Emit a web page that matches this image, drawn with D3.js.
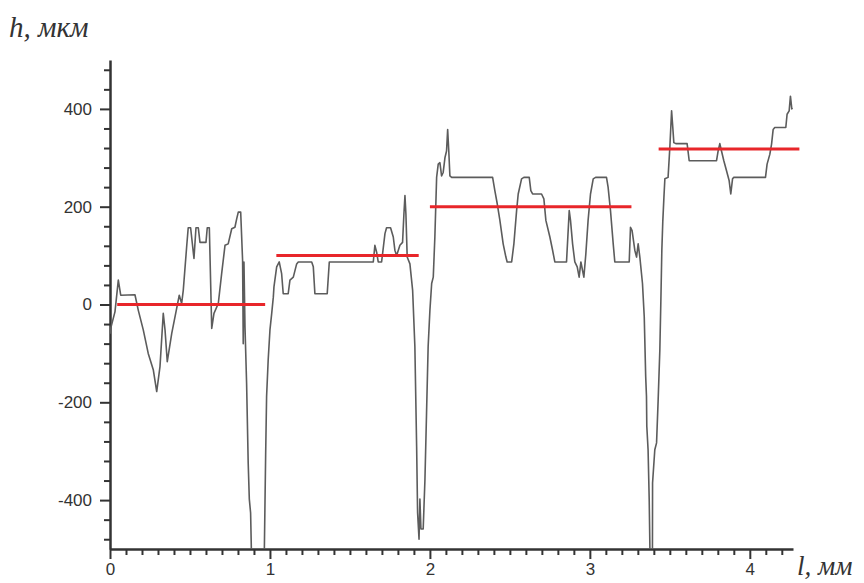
<!DOCTYPE html>
<html>
<head>
<meta charset="utf-8">
<script src="https://cdn.jsdelivr.net/npm/d3@7"></script>
<style>
  body { margin: 0; background: #fff; }
  .tick text { font-family: "Liberation Sans", Arial, sans-serif; fill: #333; }
</style>
</head>
<body>
<script>
// profile: distance along the surface (mm) and height (μm)
var profileX = [0.0, 0.004, 0.031, 0.052, 0.067, 0.156, 0.177, 0.208, 0.239, 0.271, 0.292, 0.3125, 0.333, 0.344, 0.358,
  0.386, 0.4125, 0.433, 0.448, 0.458, 0.479, 0.489, 0.504, 0.525, 0.5375, 0.552, 0.5625, 0.6, 0.608, 0.621,
  0.636, 0.65, 0.677, 0.698, 0.719, 0.739, 0.761, 0.781, 0.792, 0.802, 0.817, 0.829, 0.833, 0.8375, 0.844,
  0.854, 0.864, 0.871, 0.879, 0.8875, 0.9625, 0.973, 0.979, 0.989, 1.0, 1.011, 1.021, 1.025, 1.042, 1.058,
  1.073, 1.083, 1.114, 1.125, 1.146, 1.167, 1.177, 1.261, 1.271, 1.281, 1.358, 1.371, 1.646, 1.656, 1.667,
  1.677, 1.698, 1.719, 1.729, 1.754, 1.771, 1.781, 1.792, 1.8125, 1.829, 1.8375, 1.844, 1.85, 1.858, 1.875,
  1.892, 1.906, 1.917, 1.923, 1.932, 1.9375, 1.944, 1.958, 1.969, 1.979, 1.989, 2.0, 2.011, 2.021, 2.031,
  2.042, 2.052, 2.0625, 2.073, 2.083, 2.094, 2.104, 2.111, 2.118, 2.125, 2.136, 2.392, 2.406, 2.421, 2.4375,
  2.458, 2.475, 2.483, 2.511, 2.525, 2.542, 2.552, 2.573, 2.5875, 2.621, 2.631, 2.642, 2.698, 2.7125, 2.725,
  2.75, 2.767, 2.781, 2.854, 2.871, 2.879, 2.892, 2.906, 2.921, 2.933, 2.944, 2.954, 2.9625, 2.975, 2.989,
  3.004, 3.021, 3.036, 3.104, 3.114, 3.129, 3.146, 3.156, 3.246, 3.254, 3.264, 3.281, 3.292, 3.302, 3.3125,
  3.329, 3.34, 3.349, 3.354, 3.356, 3.364, 3.371, 3.378, 3.391, 3.392, 3.406, 3.417, 3.427, 3.4375, 3.444,
  3.45, 3.456, 3.463, 3.469, 3.489, 3.5, 3.511, 3.517, 3.525, 3.5375, 3.608, 3.621, 3.792, 3.802, 3.8125,
  3.823, 3.8375, 3.854, 3.871, 3.881, 3.892, 3.9, 4.098, 4.108, 4.125, 4.136, 4.146, 4.156, 4.225, 4.233,
  4.246, 4.254, 4.2625, 4.267];
var profileH = [-60, -49, -15, 50, 19, 20, -12, -52, -100, -134, -178, -127, -18, -52, -117,
  -59, -15, 19, 2, 29, 117, 157, 157, 94, 157, 157, 127, 127, 157, 157,
  -49, -18, 2, 63, 121, 124, 155, 158, 175, 189, 189, 90, -80, 87, -46,
  -161, -324, -398, -426, -560, -560, -310, -188, -113, -52, -18, 15, 36, 77, 87,
  63, 22, 22, 50, 56, 83, 87, 87, 77, 22, 22, 87, 87, 121, 107,
  87, 87, 145, 157, 157, 138, 111, 100, 121, 127, 185, 223, 185, 97, 83,
  29, -86, -290, -426, -480, -398, -459, -459, -358, -222, -86, -12, 43, 56, 138,
  260, 287, 290, 263, 270, 300, 314, 358, 314, 263, 260, 260, 233, 206, 172,
  124, 97, 87, 87, 124, 192, 226, 257, 260, 260, 233, 226, 226, 216, 172,
  138, 111, 87, 87, 192, 172, 124, 87, 77, 56, 87, 70, 56, 104, 172,
  226, 257, 260, 260, 240, 192, 124, 87, 87, 158, 151, 111, 97, 124, 97,
  43, -25, -147, -188, -249, -297, -398, -560, -560, -365, -297, -283, -195, -93, 9,
  111, 170, 219, 257, 260, 321, 396, 369, 331, 329, 329, 294, 294, 314, 329,
  314, 294, 274, 253, 226, 257, 260, 260, 287, 307, 328, 358, 362, 362, 389,
  396, 426, 400, 402];

// mean levels of the four steps
var meanStart = [0.045, 1.04, 2.0, 3.43];
var meanEnd = [0.97, 1.93, 3.26, 4.31];
var meanLevel = [0, 100, 200, 318];

var yMajor = [-400, -200, 0, 200, 400];
var xMajor = [0, 1, 2, 3, 4];

var width = 864, height = 583;
var margin = {left: 110, right: 793, top: 60, bottom: 549};

var svg = d3.select("body").append("svg")
  .attr("width", width)
  .attr("height", height);

var x = d3.scaleLinear().domain([0, 4.27]).range([margin.left, margin.right]);
var y = d3.scaleLinear().domain([-500, 500]).range([margin.bottom, margin.top]);

svg.append("clipPath").attr("id", "plot")
  .append("rect")
  .attr("x", margin.left).attr("y", margin.top)
  .attr("width", margin.right - margin.left).attr("height", margin.bottom - margin.top);

// plain hyphen for negatives, like the original
var fmt = function(d) { return String(d); };

// minor ticks first, then major axes on top
var yMinor = d3.range(-480, 481, 40).filter(function(v) { return yMajor.indexOf(v) < 0; });
var xMinor = d3.range(1, 43).map(function(v) { return v / 10; })
  .filter(function(v) { return Math.abs(v - Math.round(v)) > 1e-6; });

svg.append("g")
  .attr("transform", "translate(" + margin.left + ",0)")
  .call(d3.axisLeft(y).tickValues(yMinor).tickSize(6).tickFormat(""))
  .call(function(g) { g.select(".domain").remove(); });

svg.append("g")
  .attr("transform", "translate(0," + margin.bottom + ")")
  .call(d3.axisBottom(x).tickValues(xMinor).tickSize(6).tickFormat(""))
  .call(function(g) { g.select(".domain").remove(); });

var yAxis = svg.append("g")
  .attr("transform", "translate(" + margin.left + ",0)")
  .call(d3.axisLeft(y).tickValues(yMajor).tickSize(10).tickPadding(8).tickSizeOuter(0)
    .tickFormat(fmt));
yAxis.selectAll("text").style("font-size", "17px");

var xAxis = svg.append("g")
  .attr("transform", "translate(0," + margin.bottom + ")")
  .call(d3.axisBottom(x).tickValues(xMajor).tickSize(10).tickPadding(4).tickSizeOuter(0)
    .tickFormat(fmt));
xAxis.selectAll("text").style("font-size", "17px");

svg.selectAll(".tick line").attr("stroke", "#333").attr("stroke-width", 2);
svg.selectAll(".domain").attr("stroke", "#333").attr("stroke-width", 2.5);

// profile line
var line = d3.line()
  .x(function(d, i) { return x(profileX[i]); })
  .y(function(d, i) { return y(profileH[i]); });

svg.append("path")
  .datum(profileX)
  .attr("clip-path", "url(#plot)")
  .attr("fill", "none")
  .attr("stroke", "#5c5c5c")
  .attr("stroke-width", 1.6)
  .attr("stroke-linejoin", "round")
  .attr("d", line);

// mean lines
svg.selectAll("line.mean")
  .data(meanLevel)
  .enter().append("line")
  .attr("class", "mean")
  .attr("x1", function(d, i) { return x(meanStart[i]); })
  .attr("x2", function(d, i) { return x(meanEnd[i]); })
  .attr("y1", function(d) { return y(d); })
  .attr("y2", function(d) { return y(d); })
  .attr("stroke", "#e8262a")
  .attr("stroke-width", 3);

// axis titles
svg.append("text")
  .attr("x", 9).attr("y", 37)
  .style("font-family", "'Liberation Serif', 'Times New Roman', serif")
  .style("font-style", "italic")
  .style("font-size", "29px")
  .style("fill", "#333")
  .text("h, мкм");

svg.append("text")
  .attr("x", 797).attr("y", 575)
  .style("font-family", "'Liberation Serif', 'Times New Roman', serif")
  .style("font-style", "italic")
  .style("font-size", "27px")
  .style("fill", "#333")
  .text("l, мм");
</script>
</body>
</html>
